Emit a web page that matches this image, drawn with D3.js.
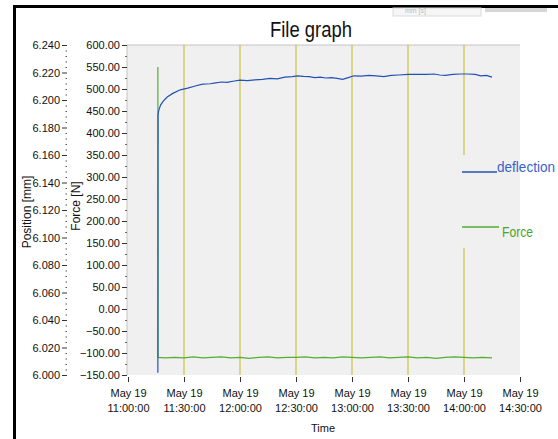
<!DOCTYPE html>
<html>
<head>
<meta charset="utf-8">
<script src="https://cdn.jsdelivr.net/npm/d3@7"></script>
<style>
  body { margin: 0; background: #fff; }
  svg text { font-family: "Liberation Sans", Arial, sans-serif; }
</style>
</head>
<body>
<svg id="chart" width="558" height="439"></svg>
<script>
////////// dados

// eixo x: ticks de 30 em 30 minutos (19 de maio)
const tickTimes = ['11:00', '11:30', '12:00', '12:30', '13:00', '13:30', '14:00', '14:30'];

// eixo esquerdo (posição) e eixo da força
const positionTicks = [6.000, 6.020, 6.040, 6.060, 6.080, 6.100, 6.120, 6.140, 6.160, 6.180, 6.200, 6.220, 6.240];
const forceTicks = [-150, -100, -50, 0, 50, 100, 150, 200, 250, 300, 350, 400, 450, 500, 550, 600];

// deflection [mm]
const deflTimes = ['11:16:00', '11:16:05', '11:16:30', '11:17:30', '11:19:00', '11:21:00', '11:24:00', '11:28:00',
  '11:32:00', '11:36:00', '11:40:00', '11:44:00', '11:47:00', '11:50:00', '11:53:00', '11:57:00', '12:00:00',
  '12:04:00', '12:08:00', '12:12:00', '12:16:00', '12:20:00', '12:24:00', '12:28:00', '12:31:00', '12:34:00',
  '12:37:00', '12:40:00', '12:43:00', '12:46:00', '12:49:00', '12:52:00', '12:55:00', '12:58:00', '13:01:00',
  '13:05:00', '13:09:00', '13:13:00', '13:17:00', '13:21:00', '13:25:00', '13:30:00', '13:35:00', '13:40:00',
  '13:44:00', '13:47:00', '13:50:00', '13:54:00', '13:58:00', '14:02:00', '14:06:00', '14:09:00', '14:12:00', '14:15:00'];
const deflValues = [6.0016, 6.1891, 6.1926, 6.1965, 6.1994, 6.2022, 6.2048, 6.2074,
  6.2086, 6.2102, 6.2115, 6.2118, 6.2125, 6.2131, 6.2128, 6.2138, 6.2144,
  6.2141, 6.2147, 6.2150, 6.2157, 6.2154, 6.2166, 6.2170, 6.2176, 6.2172,
  6.2170, 6.2163, 6.2166, 6.2160, 6.2163, 6.2157, 6.2150, 6.2163, 6.2176,
  6.2173, 6.2179, 6.2176, 6.2170, 6.2179, 6.2182, 6.2186, 6.2186, 6.2186,
  6.2189, 6.2182, 6.2179, 6.2186, 6.2189, 6.2189, 6.2186, 6.2176, 6.2179, 6.2166];

// Force [N]
const forceTimes = ['11:16:00', '11:16:05', '11:20:00', '11:25:00', '11:30:00', '11:35:00', '11:40:00', '11:45:00',
  '11:50:00', '11:55:00', '12:00:00', '12:05:00', '12:10:00', '12:15:00', '12:20:00', '12:25:00', '12:30:00',
  '12:35:00', '12:40:00', '12:45:00', '12:50:00', '12:55:00', '13:00:00', '13:05:00', '13:10:00', '13:15:00',
  '13:20:00', '13:25:00', '13:30:00', '13:35:00', '13:40:00', '13:45:00', '13:50:00', '13:55:00', '14:00:00',
  '14:05:00', '14:10:00', '14:15:00'];
const forceValues = [550, -110, -111, -110, -111, -109, -111, -110,
  -109, -111, -110, -112, -110, -109, -111, -110, -110,
  -109, -111, -110, -111, -109, -110, -111, -110, -109,
  -111, -110, -109, -111, -110, -112, -110, -109, -110,
  -111, -110, -111];

////////// montagem

const svg = d3.select('#chart');
const plotLeft = 127, plotRight = 520, plotTop = 45, plotBottom = 375;

function parseT(s) {
  const p = s.split(':').map(Number);
  return new Date(2015, 4, 19, p[0], p[1], p[2] || 0);
}

const x = d3.scaleTime()
  .domain([parseT(tickTimes[0]), parseT(tickTimes[tickTimes.length - 1])])
  .range([plotLeft + 1, plotRight]);

const yForce = d3.scaleLinear().domain([-150, 600]).range([plotBottom, plotTop]);
const yPos = d3.scaleLinear().domain([6.0, 6.24]).range([plotBottom, plotTop]);

// moldura preta (janela recortada)
svg.append('rect').attr('x', 13).attr('y', 5).attr('width', 545).attr('height', 3).attr('fill', '#000');
svg.append('rect').attr('x', 13).attr('y', 5).attr('width', 3).attr('height', 434).attr('fill', '#000');

// pedaço de controle recortado no topo
svg.append('rect').attr('x', 393).attr('y', 8).attr('width', 88).attr('height', 8)
  .attr('fill', '#f6f6f6').attr('stroke', '#dcdcdc');
svg.append('text').attr('x', 405).attr('y', 13).attr('font-size', 7).attr('fill', '#bbb').text('mm [s]');
svg.append('rect').attr('x', 485).attr('y', 8).attr('width', 62).attr('height', 4).attr('fill', '#d6d6d6');

// título
svg.append('text')
  .attr('x', 311).attr('y', 37)
  .attr('text-anchor', 'middle')
  .attr('font-size', 22)
  .attr('textLength', 82).attr('lengthAdjust', 'spacingAndGlyphs')
  .attr('fill', '#111')
  .text('File graph');

// fundo do plot
svg.append('rect')
  .attr('x', plotLeft).attr('y', plotTop)
  .attr('width', plotRight - plotLeft).attr('height', plotBottom - plotTop)
  .attr('fill', '#f0f0f0');
svg.append('path')
  .attr('d', `M${plotLeft},${plotBottom}V${plotTop}H${plotRight}`)
  .attr('fill', 'none').attr('stroke', '#c4c4c4');

// linhas verticais amarelas
const gridTimes = tickTimes.slice(1, -1).map(parseT);
svg.append('g').selectAll('line')
  .data(gridTimes)
  .join('line')
  .attr('x1', d => x(d)).attr('x2', d => x(d))
  .attr('y1', plotTop).attr('y2', plotBottom)
  .attr('stroke', '#c9c146').attr('stroke-width', 1.2);

// fundo da legenda (cobre a grade)
svg.append('rect')
  .attr('x', 455).attr('y', 155).attr('width', plotRight - 455).attr('height', 93)
  .attr('fill', '#f0f0f0');

// séries
const forceData = forceTimes.map((t, i) => ({t: parseT(t), v: forceValues[i]}));
const deflData = deflTimes.map((t, i) => ({t: parseT(t), v: deflValues[i]}));

svg.append('path')
  .datum(forceData)
  .attr('fill', 'none').attr('stroke', '#55ad34').attr('stroke-width', 1.2)
  .attr('d', d3.line().x(d => x(d.t)).y(d => yForce(d.v)));

svg.append('path')
  .datum(deflData)
  .attr('fill', 'none').attr('stroke', '#2352b5').attr('stroke-width', 1.2)
  .attr('d', d3.line().x(d => x(d.t)).y(d => yPos(d.v)));

// eixo x
const xAxis = d3.axisBottom(x)
  .tickValues(tickTimes.map(parseT))
  .tickSize(5)
  .tickFormat('');
const gx = svg.append('g').attr('transform', `translate(0,${plotBottom + 2})`).call(xAxis);
gx.select('.domain').remove();
gx.selectAll('.tick line').attr('stroke', '#333');
gx.selectAll('.tick').append('text')
  .attr('fill', '#111').attr('font-size', 11).attr('text-anchor', 'middle')
  .attr('y', 20).text(d => d3.timeFormat('%b %-d')(d));
gx.selectAll('.tick').append('text')
  .attr('fill', '#111').attr('font-size', 11).attr('text-anchor', 'middle')
  .attr('y', 35).text(d => d3.timeFormat('%H:%M:%S')(d));

svg.append('text')
  .attr('x', 323).attr('y', 432)
  .attr('text-anchor', 'middle').attr('font-size', 11).attr('fill', '#111')
  .text('Time');

// eixo da força
const minorForce = d3.range(-150, 600, 25).filter(v => v % 50 !== 0);
const gfm = svg.append('g').attr('transform', `translate(${plotLeft},0)`)
  .call(d3.axisLeft(yForce).tickValues(minorForce).tickSize(2).tickFormat(''));
gfm.select('.domain').remove();
gfm.selectAll('.tick line').attr('stroke', '#666');

const gf = svg.append('g').attr('transform', `translate(${plotLeft},0)`)
  .call(d3.axisLeft(yForce).tickValues(forceTicks).tickSize(5).tickPadding(2).tickFormat(d3.format('.2f')));
gf.select('.domain').remove();
gf.selectAll('.tick line').attr('stroke', '#333');
gf.selectAll('.tick text').attr('font-size', 11).attr('fill', '#111')
  .attr('font-family', '"Liberation Sans", Arial, sans-serif');

// eixo da posição
const minorPos = d3.range(0, 61).map(i => 6 + i * 0.004).filter((v, i) => i % 5 !== 0);
const gpm = svg.append('g').attr('transform', 'translate(67,0)')
  .call(d3.axisLeft(yPos).tickValues(minorPos).tickSize(1.5).tickFormat(''));
gpm.select('.domain').remove();
gpm.selectAll('.tick line').attr('stroke', '#555');

const gp = svg.append('g').attr('transform', 'translate(67,0)')
  .call(d3.axisLeft(yPos).tickValues(positionTicks).tickSize(5).tickPadding(2).tickFormat(d3.format('.3f')));
gp.select('.domain').remove();
gp.selectAll('.tick line').attr('stroke', '#333');
gp.selectAll('.tick text').attr('font-size', 11).attr('fill', '#111')
  .attr('font-family', '"Liberation Sans", Arial, sans-serif');

// títulos dos eixos verticais
svg.append('text')
  .attr('transform', 'translate(31,212) rotate(-90)')
  .attr('text-anchor', 'middle').attr('font-size', 12).attr('fill', '#111')
  .text('Position [mm]');
svg.append('text')
  .attr('transform', 'translate(80,206) rotate(-90)')
  .attr('text-anchor', 'middle').attr('font-size', 12).attr('fill', '#111')
  .text('Force [N]');

// legenda
svg.append('line').attr('x1', 462).attr('x2', 497).attr('y1', 172).attr('y2', 172)
  .attr('stroke', '#2352b5').attr('stroke-width', 1.3);
svg.append('text').attr('x', 497).attr('y', 172)
  .attr('font-size', 14).attr('fill', '#3a62c8')
  .attr('textLength', 58).attr('lengthAdjust', 'spacingAndGlyphs')
  .text('deflection');
svg.append('line').attr('x1', 462).attr('x2', 499).attr('y1', 227).attr('y2', 227)
  .attr('stroke', '#55ad34').attr('stroke-width', 1.3);
svg.append('text').attr('x', 502).attr('y', 237)
  .attr('font-size', 14).attr('fill', '#4aa52b')
  .attr('textLength', 31).attr('lengthAdjust', 'spacingAndGlyphs')
  .text('Force');
</script>
</body>
</html>
